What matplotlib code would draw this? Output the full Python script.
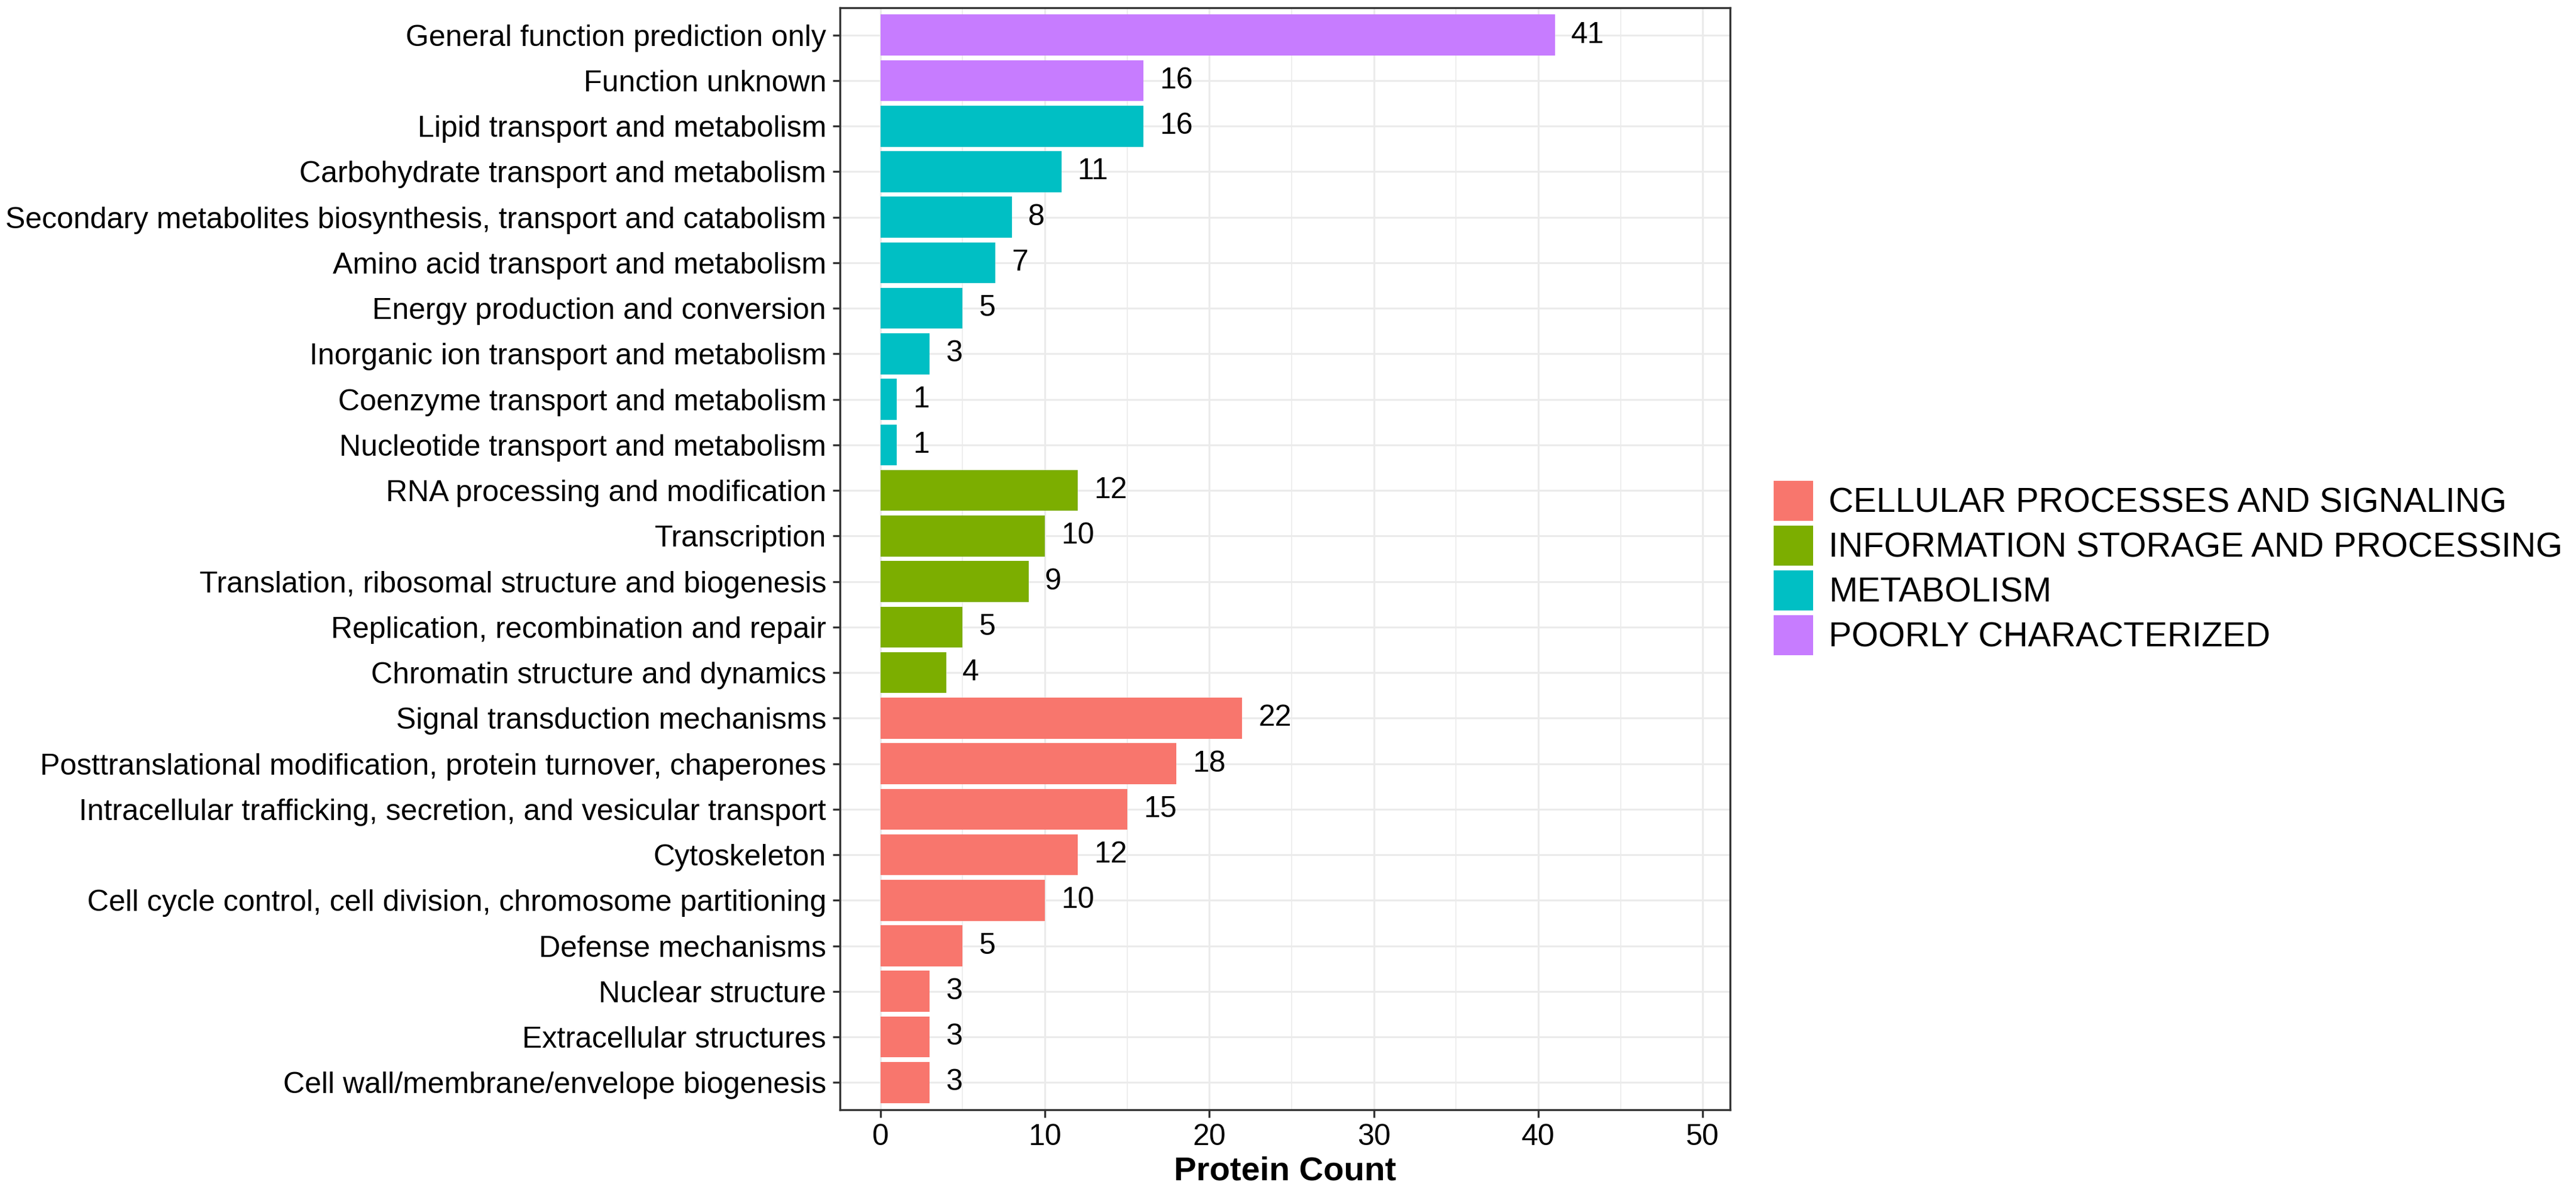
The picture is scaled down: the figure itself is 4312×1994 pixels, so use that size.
import matplotlib
matplotlib.use('Agg')
import matplotlib.pyplot as plt
from matplotlib.patches import Patch

plt.rcParams['font.family'] = ['Liberation Sans', 'DejaVu Sans']

# bottom to top, as drawn
terms = ['Cell wall/membrane/envelope biogenesis',
         'Extracellular structures',
         'Nuclear structure',
         'Defense mechanisms',
         'Cell cycle control, cell division, chromosome partitioning',
         'Cytoskeleton',
         'Intracellular trafficking, secretion, and vesicular transport',
         'Posttranslational modification, protein turnover, chaperones',
         'Signal transduction mechanisms',
         'Chromatin structure and dynamics',
         'Replication, recombination and repair',
         'Translation, ribosomal structure and biogenesis',
         'Transcription',
         'RNA processing and modification',
         'Nucleotide transport and metabolism',
         'Coenzyme transport and metabolism',
         'Inorganic ion transport and metabolism',
         'Energy production and conversion',
         'Amino acid transport and metabolism',
         'Secondary metabolites biosynthesis, transport and catabolism',
         'Carbohydrate transport and metabolism',
         'Lipid transport and metabolism',
         'Function unknown',
         'General function prediction only']
counts = [3, 3, 3, 5, 10, 12, 15, 18, 22,
          4, 5, 9, 10, 12,
          1, 1, 3, 5, 7, 8, 11, 16,
          16, 41]
groups = ['C'] * 9 + ['I'] * 5 + ['M'] * 8 + ['P'] * 2

group_names = {'C': 'CELLULAR PROCESSES AND SIGNALING',
               'I': 'INFORMATION STORAGE AND PROCESSING',
               'M': 'METABOLISM',
               'P': 'POORLY CHARACTERIZED'}
group_colors = {'C': '#F8766D', 'I': '#7CAE00', 'M': '#00BFC4', 'P': '#C77CFF'}

fig = plt.figure(figsize=(4312 / 300, 1994 / 300), dpi=300)
ax = fig.add_axes([1406 / 4312, 1 - 1858 / 1994, 1490 / 4312, 1845 / 1994])

ypos = list(range(1, len(terms) + 1))
ax.barh(ypos, counts, height=0.9, color=[group_colors[g] for g in groups], zorder=3)

for y, c in zip(ypos, counts):
    ax.annotate(str(c), (c, y), xytext=(6.5, 0), textcoords='offset points',
                ha='left', va='center', fontsize=12, zorder=4)

xmax = max(counts) * 1.2
ax.set_xlim(-0.05 * xmax, xmax * 1.05)
ax.set_ylim(0.4, len(terms) + 0.6)
ax.set_xticks([0, 10, 20, 30, 40, 50])
ax.set_xticks([5, 15, 25, 35, 45], minor=True)
ax.set_yticks(ypos)
ax.set_yticklabels(terms)

ax.grid(True, which='major', color='#EBEBEB', linewidth=0.75, zorder=0)
ax.grid(True, which='minor', axis='x', color='#EBEBEB', linewidth=0.4, zorder=0)
ax.set_axisbelow(True)

for s in ax.spines.values():
    s.set_color('#333333')
    s.set_linewidth(0.8)
ax.tick_params(which='major', length=3, width=0.8, color='#333333',
               labelsize=12, labelcolor='black', pad=2.5)
ax.tick_params(which='minor', length=0)
ax.set_xlabel('Protein Count', fontsize=13.5, fontweight='bold', labelpad=2)

handles = [Patch(facecolor=group_colors[g], edgecolor='none') for g in ['C', 'I', 'M', 'P']]
fig.legend(handles, [group_names[g] for g in ['C', 'I', 'M', 'P']],
           loc='center left', bbox_to_anchor=(2969 / 4312, 1 - 951 / 1994),
           frameon=False, fontsize=13.8, borderpad=0, borderaxespad=0,
           handlelength=1.15, handleheight=1.4, labelspacing=0.15,
           handletextpad=0.45)

fig.savefig('out.png', dpi=300)
